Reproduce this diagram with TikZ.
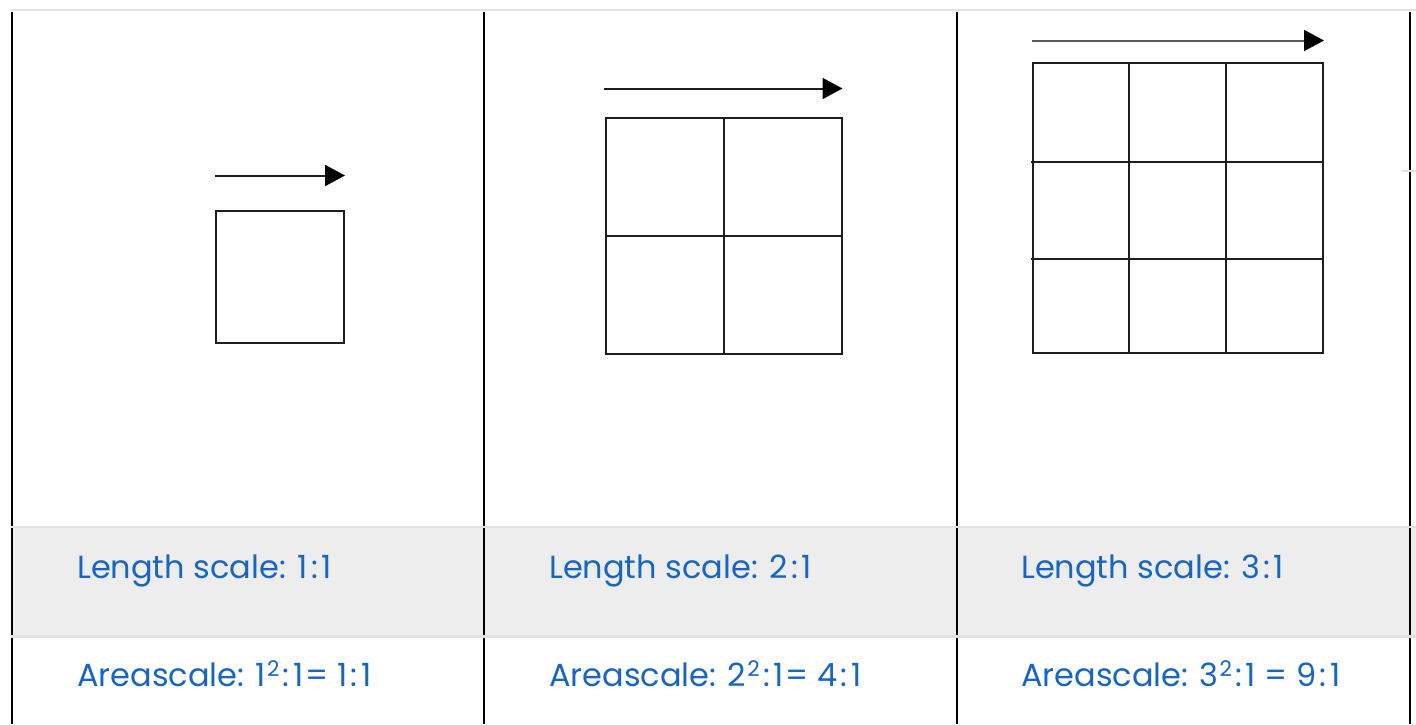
\documentclass[tikz,border=0pt]{standalone}
\usepackage{fontspec}
\setmainfont{Poppins}
\usetikzlibrary{arrows.meta}
\definecolor{labelblue}{RGB}{23,102,196}
\definecolor{rowgray}{RGB}{237,237,237}
\definecolor{rulegray}{RGB}{226,226,226}
\definecolor{inkdark}{RGB}{30,30,30}
\tikzset{
  cellrule/.style={line width=2pt, black},
  softrule/.style={line width=2.6pt, rulegray},
  gridline/.style={line width=2pt, inkdark},
  lenarrow/.style={line width=2pt, inkdark, -{Triangle[length=20pt,width=21pt,color=black]}, shorten >=-1pt},
  label/.style={anchor=base west, inner sep=0pt, text=labelblue, font=\fontsize{32}{37}\selectfont},
}
% ratio colon with open spacing, and a squared digit
\newcommand{\rc}{\kern3.5pt:\kern3.5pt}
\newcommand{\sqr}[1]{#1\kern1pt\raisebox{9.5pt}{\fontsize{21.5}{24}\selectfont 2}}
\begin{document}
\begin{tikzpicture}[x=1pt, y=-1pt]
  \useasboundingbox (0,0) rectangle (1416,724);
  \fill[white] (0,0) rectangle (1416,724);

  % shaded middle row of the table
  \fill[rowgray] (11,527) rectangle (1416,636);

  % black column rules
  \draw[cellrule] (11.5,12) -- (11.5,724);
  \draw[cellrule] (484,12) -- (484,724);
  \draw[cellrule] (957,12) -- (957,724);
  \draw[cellrule] (1410,12) -- (1410,724);

  % light horizontal rules
  \draw[softrule] (11,10) -- (1416,10);
  \draw[softrule] (11,527) -- (1416,527);
  \draw[softrule] (11,636.5) -- (1416,636.5);
  \draw[rulegray, line width=1.5pt] (1402,171) -- (1416,171);

  % scale 1:1
  \coordinate (a1s) at (215,175.5);
  \coordinate (a1e) at (344,175.5);
  \draw[lenarrow] (a1s) -- (a1e);
  \draw[gridline] (215.5,211) rectangle (344,343);

  % scale 2:1
  \coordinate (a2s) at (604,88.5);
  \coordinate (a2e) at (841.5,88.5);
  \draw[lenarrow] (a2s) -- (a2e);
  \draw[gridline] (606,118) rectangle (841.5,354);
  \draw[gridline] (724,118) -- (724,354);
  \draw[gridline] (606,236) -- (841.5,236);

  % scale 3:1
  \coordinate (a3s) at (1032,40.5);
  \coordinate (a3e) at (1323,40.5);
  \draw[lenarrow, draw=black!65] (a3s) -- (a3e);
  \draw[gridline] (1033,63) rectangle (1323,353);
  \draw[gridline] (1128.5,63) -- (1128.5,353);
  \draw[gridline] (1225.5,63) -- (1225.5,353);
  \draw[gridline] (1031,161.5) -- (1323,161.5);
  \draw[gridline] (1031,258.5) -- (1323,258.5);

  % labels
  \node[label] (len1) at (77,578) {Length scale: 1\rc1};
  \node[label] (len2) at (549,578) {Length scale: 2\rc1};
  \node[label] (len3) at (1021,578) {Length scale: 3\rc1};
  \node[label] (area1) at (77,686) {Areascale: \sqr{1}\rc1\kern2pt= 1\rc1};
  \node[label] (area2) at (549,686) {Areascale: \sqr{2}\rc1\kern2pt= 4\rc1};
  \node[label] (area3) at (1021,686) {Areascale: \sqr{3}\rc1 = 9\rc1};
\end{tikzpicture}
\end{document}
